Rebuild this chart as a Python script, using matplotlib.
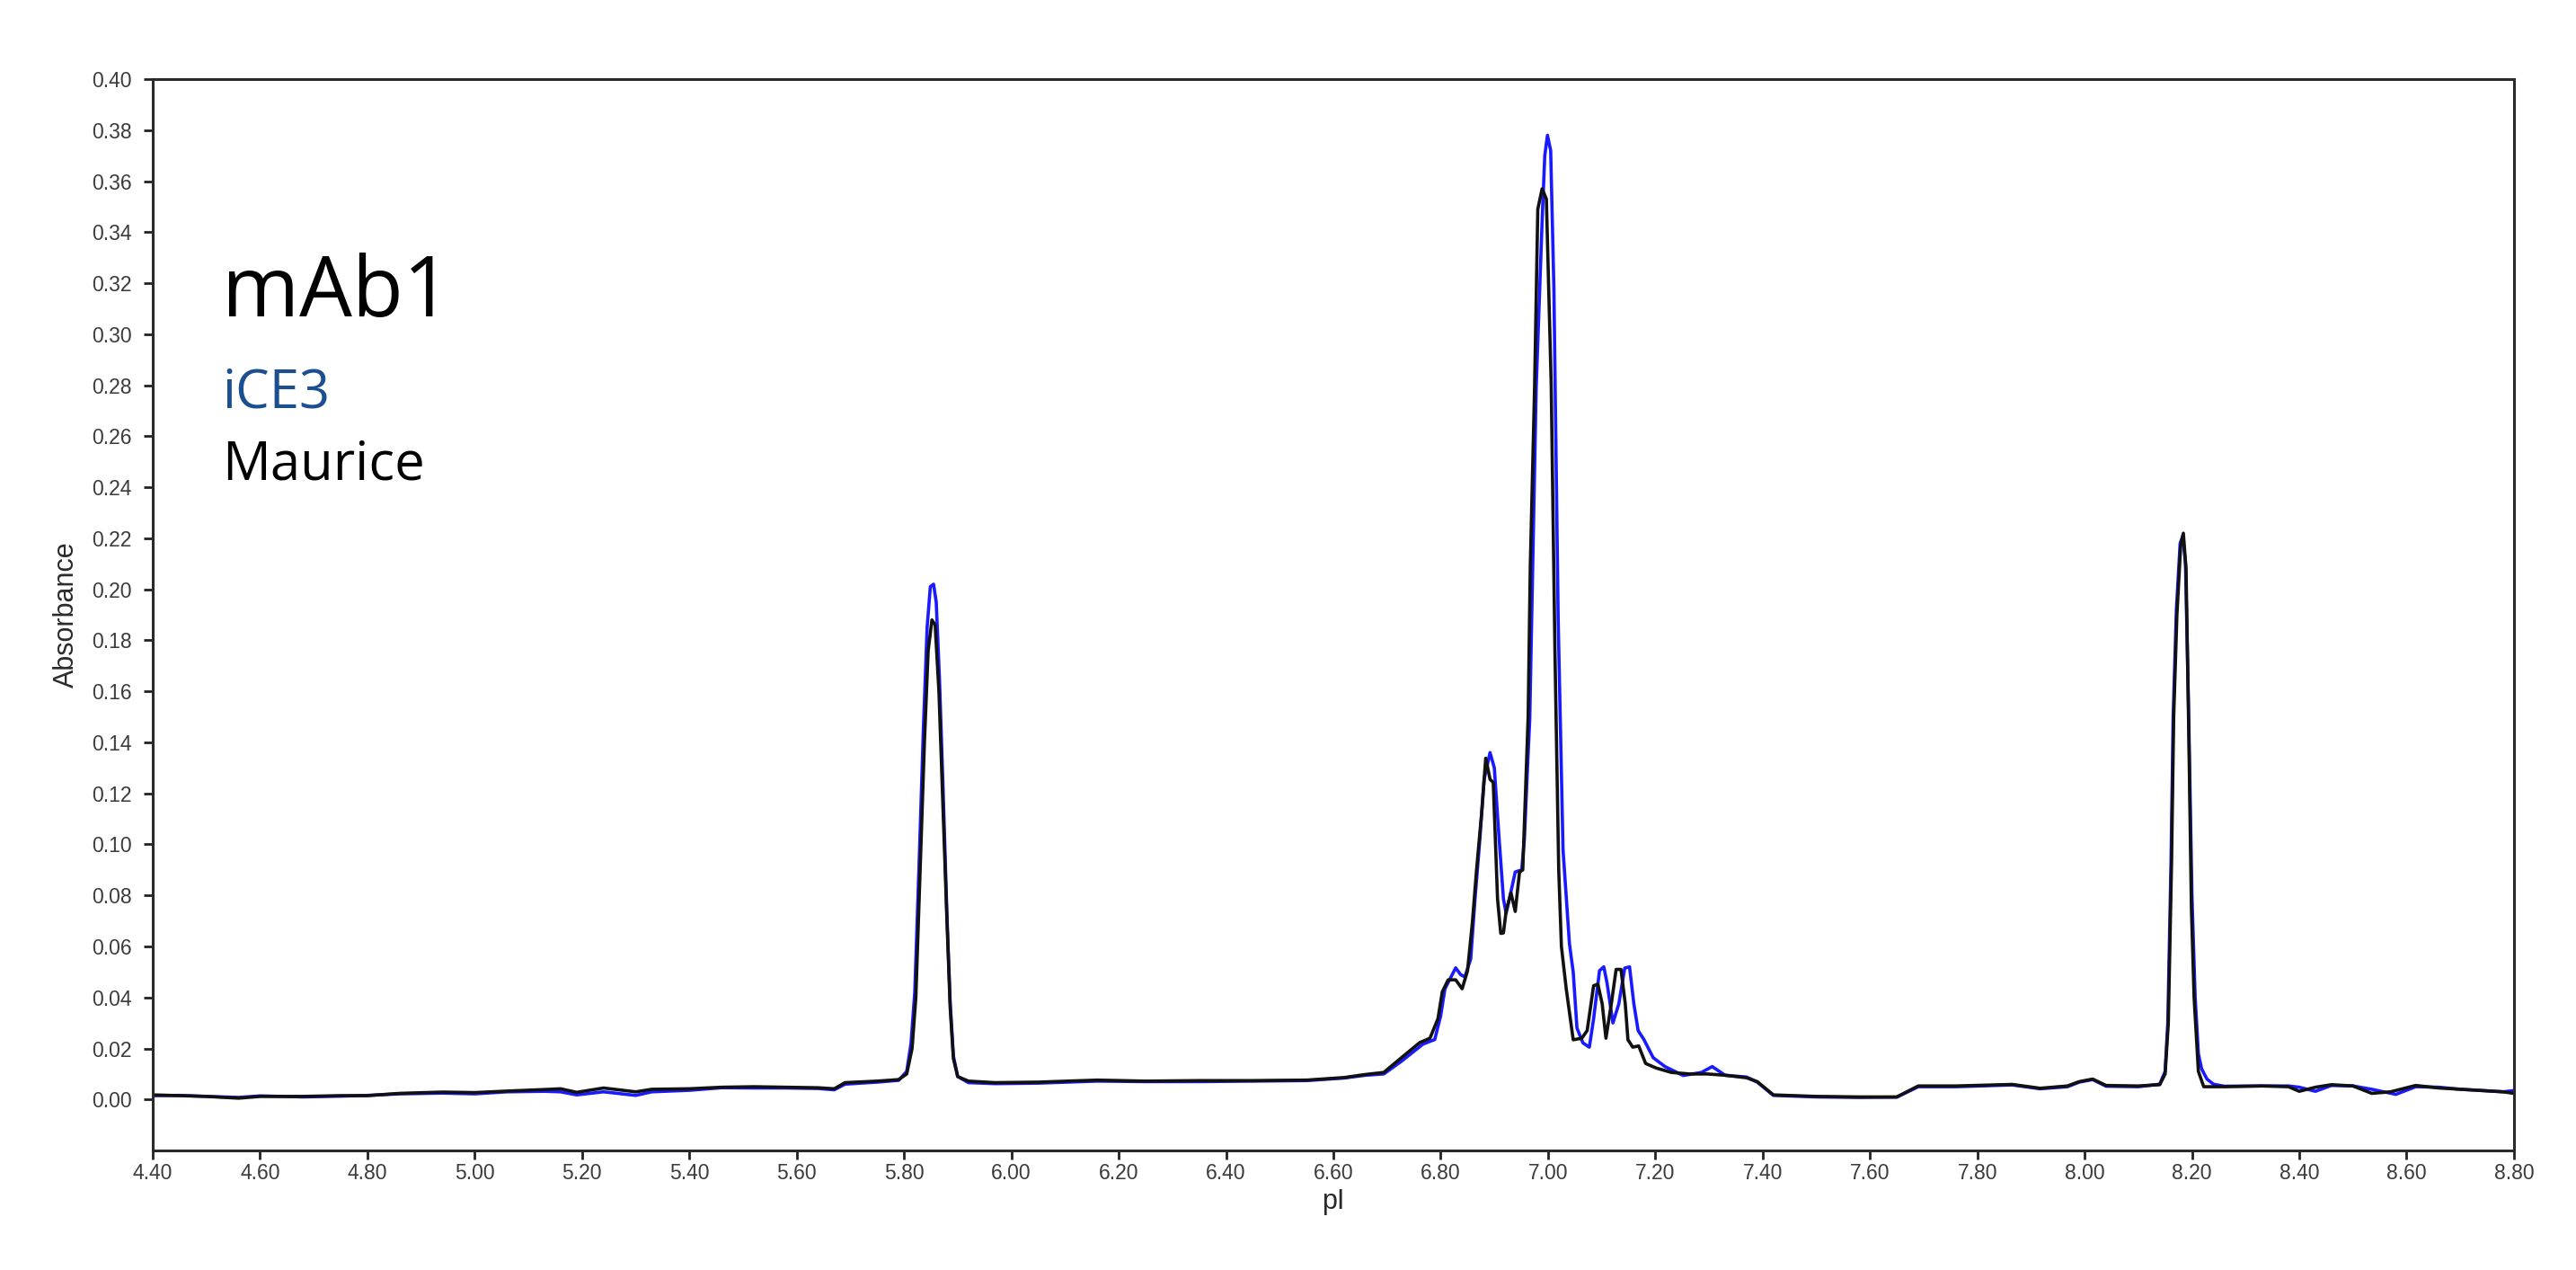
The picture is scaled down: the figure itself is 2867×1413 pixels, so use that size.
import matplotlib
matplotlib.use("Agg")
import matplotlib.pyplot as plt
import numpy as np

# ---------------- data ----------------
# Maurice trace (black)
maurice_pI = [
    4.40, 4.45, 4.50, 4.56, 4.60, 4.68, 4.75, 4.80, 4.86, 4.94, 5.00, 5.06, 5.13, 5.16,
    5.19, 5.24, 5.30, 5.33, 5.40, 5.46, 5.52, 5.58, 5.64, 5.67, 5.69, 5.75, 5.79,
    5.805, 5.815, 5.822, 5.830, 5.838, 5.845, 5.852, 5.858, 5.865, 5.872, 5.880, 5.886,
    5.892, 5.90, 5.92, 5.97, 6.05, 6.16, 6.25, 6.35, 6.45, 6.55, 6.62, 6.66,
    6.694, 6.727, 6.761, 6.780, 6.795, 6.803, 6.814, 6.828, 6.840, 6.850, 6.859, 6.867,
    6.876, 6.884, 6.892, 6.898, 6.906, 6.912, 6.917, 6.922, 6.931, 6.939, 6.947, 6.953,
    6.958, 6.963, 6.967, 6.975, 6.981, 6.989, 6.997, 7.006, 7.013, 7.020, 7.025, 7.034,
    7.047, 7.063, 7.073, 7.085, 7.093, 7.101, 7.108, 7.118, 7.127, 7.136, 7.144, 7.149,
    7.158, 7.169, 7.182, 7.202, 7.230, 7.264, 7.297, 7.33, 7.37, 7.39, 7.42, 7.50,
    7.58, 7.65, 7.69, 7.76, 7.865, 7.917, 7.968, 7.99, 8.015, 8.04, 8.10, 8.14,
    8.150, 8.156, 8.162, 8.166, 8.172, 8.179, 8.184, 8.189, 8.194, 8.199, 8.204, 8.212,
    8.222, 8.26, 8.33, 8.38, 8.40, 8.43, 8.46, 8.50, 8.535, 8.57, 8.617, 8.66, 8.70,
    8.742, 8.78, 8.80,
]
maurice_abs = [
    0.0018, 0.0015, 0.0012, 0.0005, 0.0012, 0.0012, 0.0015, 0.0015, 0.0024, 0.0029, 0.0027, 0.0033, 0.0039, 0.0042,
    0.0028, 0.0045, 0.0030, 0.0040, 0.0042, 0.0048, 0.0050, 0.0048, 0.0046, 0.0042, 0.0066, 0.0072, 0.0078,
    0.010, 0.020, 0.040, 0.090, 0.140, 0.176, 0.188, 0.186, 0.160, 0.118, 0.070, 0.036,
    0.016, 0.009, 0.0072, 0.0066, 0.0068, 0.0076, 0.0072, 0.0074, 0.0074, 0.0076, 0.0086, 0.0098,
    0.0106, 0.0164, 0.0223, 0.0240, 0.0317, 0.0422, 0.0469, 0.0469, 0.0434, 0.0504, 0.0692, 0.0903,
    0.1114, 0.1338, 0.1255, 0.1243, 0.0786, 0.0651, 0.0653, 0.0739, 0.0810, 0.0737, 0.0892, 0.0900,
    0.120, 0.150, 0.209, 0.279, 0.349, 0.357, 0.353, 0.280, 0.175, 0.090, 0.060, 0.0434,
    0.0234, 0.0240, 0.0270, 0.0446, 0.0452, 0.0375, 0.0240, 0.0375, 0.0510, 0.0510, 0.0375, 0.0234,
    0.0205, 0.0210, 0.0141, 0.0123, 0.0106, 0.0100, 0.0100, 0.0095, 0.0085, 0.0070, 0.0018, 0.0012,
    0.0010, 0.0010, 0.0053, 0.0053, 0.0059, 0.0044, 0.0053, 0.0070, 0.0080, 0.0055, 0.0053, 0.0058,
    0.010, 0.030, 0.093, 0.150, 0.190, 0.217, 0.222, 0.208, 0.145, 0.075, 0.040, 0.011,
    0.005, 0.0050, 0.0053, 0.0050, 0.0032, 0.0048, 0.0058, 0.0053, 0.0024, 0.0030, 0.0055, 0.0045, 0.0040,
    0.0035, 0.0030, 0.0024,
]

# iCE3 trace (blue)
ice3_pI = [
    4.40, 4.45, 4.50, 4.56, 4.60, 4.68, 4.75, 4.80, 4.86, 4.94, 5.00, 5.06, 5.13, 5.16,
    5.19, 5.24, 5.30, 5.33, 5.40, 5.46, 5.52, 5.58, 5.64, 5.67, 5.69, 5.75, 5.79,
    5.805, 5.813, 5.820, 5.828, 5.836, 5.843, 5.849, 5.855, 5.860, 5.866, 5.873, 5.880,
    5.886, 5.892, 5.90, 5.92, 5.97, 6.05, 6.16, 6.25, 6.35, 6.45, 6.55, 6.62, 6.66,
    6.694, 6.727, 6.767, 6.789, 6.800, 6.808, 6.828, 6.837, 6.845, 6.856, 6.864, 6.873,
    6.881, 6.892, 6.900, 6.909, 6.917, 6.922, 6.928, 6.939, 6.951, 6.956, 6.962, 6.966,
    6.978, 6.989, 6.994, 6.999, 7.005, 7.011, 7.019, 7.028, 7.040, 7.047, 7.054, 7.065,
    7.077, 7.085, 7.096, 7.104, 7.110, 7.121, 7.132, 7.143, 7.152, 7.160, 7.168, 7.179,
    7.196, 7.218, 7.252, 7.286, 7.306, 7.33, 7.37, 7.39, 7.42, 7.50, 7.58, 7.65,
    7.69, 7.76, 7.865, 7.917, 7.968, 7.99, 8.015, 8.04, 8.10, 8.14,
    8.150, 8.155, 8.161, 8.165, 8.171, 8.178, 8.183, 8.188, 8.194, 8.200, 8.206, 8.212,
    8.218, 8.228, 8.24, 8.26, 8.33, 8.38, 8.40, 8.43, 8.46, 8.50, 8.535, 8.58, 8.617,
    8.66, 8.70, 8.742, 8.78, 8.80,
]
ice3_abs = [
    0.0015, 0.0016, 0.0012, 0.0008, 0.0014, 0.0010, 0.0013, 0.0016, 0.0022, 0.0025, 0.0022, 0.0030, 0.0032, 0.0030,
    0.0018, 0.0030, 0.0016, 0.0030, 0.0036, 0.0046, 0.0045, 0.0045, 0.0043, 0.0038, 0.0060, 0.0068, 0.0075,
    0.011, 0.022, 0.042, 0.092, 0.145, 0.185, 0.201, 0.202, 0.195, 0.165, 0.120, 0.072,
    0.038, 0.017, 0.009, 0.0066, 0.0062, 0.0064, 0.0072, 0.0070, 0.0070, 0.0072, 0.0074, 0.0084, 0.0095,
    0.0100, 0.0150, 0.0217, 0.0235, 0.0328, 0.0434, 0.0516, 0.0490, 0.0480, 0.0551, 0.0786, 0.1020,
    0.1255, 0.1360, 0.1300, 0.1020, 0.0786, 0.0730, 0.0786, 0.0892, 0.0900, 0.1020, 0.1310, 0.1490,
    0.279, 0.344, 0.370, 0.378, 0.372, 0.318, 0.188, 0.098, 0.061, 0.050, 0.028, 0.0222,
    0.0205, 0.0316, 0.0505, 0.0520, 0.0457, 0.0300, 0.0375, 0.0515, 0.0520, 0.0375, 0.0270, 0.0234,
    0.0164, 0.0129, 0.0094, 0.0106, 0.0129, 0.0095, 0.0088, 0.0068, 0.0016, 0.0010, 0.0008, 0.0009,
    0.0050, 0.0050, 0.0057, 0.0042, 0.0050, 0.0068, 0.0078, 0.0052, 0.0050, 0.0060,
    0.011, 0.030, 0.093, 0.150, 0.192, 0.218, 0.221, 0.210, 0.150, 0.080, 0.040, 0.018,
    0.012, 0.008, 0.006, 0.0052, 0.0053, 0.0053, 0.0048, 0.0032, 0.0055, 0.0053, 0.0040, 0.0020, 0.0050,
    0.0048, 0.0040, 0.0035, 0.0030, 0.0035,
]

x_ticks = [4.40, 4.60, 4.80, 5.00, 5.20, 5.40, 5.60, 5.80, 6.00, 6.20, 6.40, 6.60,
           6.80, 7.00, 7.20, 7.40, 7.60, 7.80, 8.00, 8.20, 8.40, 8.60, 8.80]
y_ticks = [0.00, 0.02, 0.04, 0.06, 0.08, 0.10, 0.12, 0.14, 0.16, 0.18, 0.20,
           0.22, 0.24, 0.26, 0.28, 0.30, 0.32, 0.34, 0.36, 0.38, 0.40]

title_text = "mAb1"
series_labels = ["iCE3", "Maurice"]

# ---------------- figure ----------------
fig = plt.figure(figsize=(28.67, 14.13), dpi=100)
ax = fig.add_axes([0.0593, 0.0941, 0.9166, 0.8436])

ax.plot(ice3_pI, ice3_abs, color="#1a1aff", lw=2.6, solid_joinstyle="round")
ax.plot(maurice_pI, maurice_abs, color="#111111", lw=2.6, solid_joinstyle="round")

ax.set_xlim(4.40, 8.80)
ax.set_ylim(-0.02, 0.40)
ax.set_xticks(x_ticks)
ax.set_yticks(y_ticks)
ax.set_xticklabels([f"{v:.2f}" for v in x_ticks])
ax.set_yticklabels([f"{v:.2f}" for v in y_ticks])

tick_font = ["Liberation Sans", "DejaVu Sans"]
for lab in ax.get_xticklabels() + ax.get_yticklabels():
    lab.set_family(tick_font)
    lab.set_fontsize(16.5)
    lab.set_color("#3c3c3c")

ax.tick_params(axis="y", direction="out", length=7.5, width=2, color="#222222", pad=9.5)
ax.tick_params(axis="x", direction="out", length=7, width=2, color="#222222", pad=3)

for sp in ax.spines.values():
    sp.set_linewidth(2.2)
    sp.set_color("#2a2a2a")

ax.set_xlabel("pI", fontsize=22, family=tick_font, color="#2a2a2a", labelpad=4)
ax.set_ylabel("Absorbance", fontsize=22, family=tick_font, color="#2a2a2a", labelpad=9)

big_font = ["Open Sans", "DejaVu Sans"]
fig.text(247 / 2867, 1 - 352 / 1413, title_text, fontsize=67, family=big_font,
         color="black", ha="left", va="baseline")
fig.text(247 / 2867, 1 - 454 / 1413, series_labels[0], fontsize=43, family=big_font,
         color="#1b4f8f", ha="left", va="baseline")
fig.text(247 / 2867, 1 - 534 / 1413, series_labels[1], fontsize=43, family=big_font,
         color="black", ha="left", va="baseline")

fig.savefig("out.png", dpi=100, facecolor="white")
